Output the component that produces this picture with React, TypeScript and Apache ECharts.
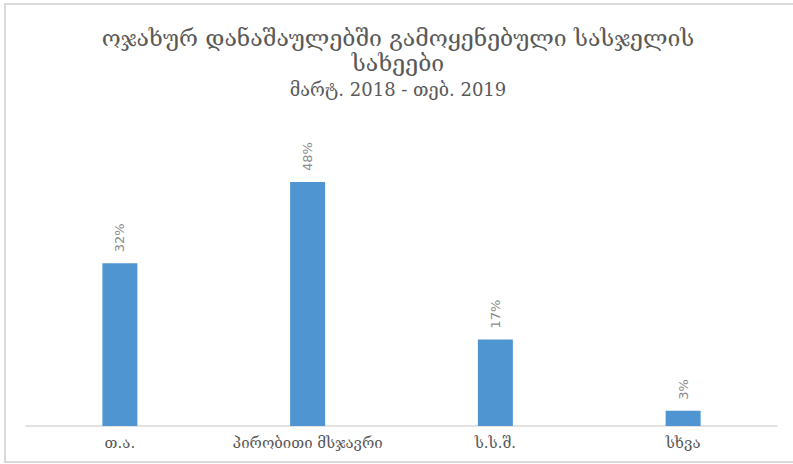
import React, { useEffect, useRef } from "react";
import * as echarts from "echarts";

const titleLine1 = "ოჯახურ დანაშაულებში გამოყენებული სასჯელის";
const titleLine2 = "სახეები";
const subtitle = "მარტ. 2018 - თებ. 2019";
const categories = ["თ.ა.", "პირობითი მსჯავრი", "ს.ს.შ.", "სხვა"];
const values = [32, 48, 17, 3];

const GEO_FONT = "'DejaVu Serif'";

export default function App() {
  const ref = useRef<HTMLDivElement>(null);
  useEffect(() => {
    if (!ref.current) return;
    const chart = echarts.init(ref.current, null, { renderer: "svg" });
    chart.setOption({
      animation: false,
      backgroundColor: "#ffffff",
      graphic: [
        {
          type: "rect",
          shape: { x: 5, y: 4, width: 800, height: 458 },
          style: { fill: "none", stroke: "#d9d9d9", lineWidth: 2 },
          silent: true,
        },
        {
          type: "text",
          x: 398,
          y: 38,
          style: {
            text: titleLine1,
            fill: "#595959",
            font: "23px " + GEO_FONT,
            align: "center",
            verticalAlign: "middle",
          },
        },
        {
          type: "text",
          x: 398,
          y: 63,
          style: {
            text: titleLine2,
            fill: "#595959",
            font: "23px " + GEO_FONT,
            align: "center",
            verticalAlign: "middle",
          },
        },
        {
          type: "text",
          x: 398,
          y: 89,
          style: {
            text: subtitle,
            fill: "#595959",
            font: "18px " + GEO_FONT,
            align: "center",
            verticalAlign: "middle",
          },
        },
      ],
      grid: { left: 26, right: 16, top: 121, bottom: 38 },
      xAxis: {
        type: "category",
        data: categories,
        axisLine: { lineStyle: { color: "#d9d9d9", width: 1.5 } },
        axisTick: { show: false },
        axisLabel: {
          interval: 0,
          color: "#595959",
          fontFamily: "DejaVu Serif",
          fontSize: 15,
          margin: 9,
        },
      },
      yAxis: {
        type: "value",
        min: 0,
        max: 60,
        show: false,
        splitLine: { show: false },
      },
      series: [
        {
          type: "bar",
          data: values,
          barWidth: 35,
          itemStyle: { color: "#4f95d1" },
          label: {
            show: true,
            position: "top",
            rotate: 90,
            align: "left",
            verticalAlign: "middle",
            distance: 11,
            formatter: "{c}%",
            color: "#8c8c8c",
            fontFamily: "DejaVu Sans",
            fontSize: 13,
          },
        },
      ],
    });
    return () => chart.dispose();
  }, []);
  return <div ref={ref} style={{ width: 793, height: 464, position: "fixed", left: 0, top: 0 }} />;
}
